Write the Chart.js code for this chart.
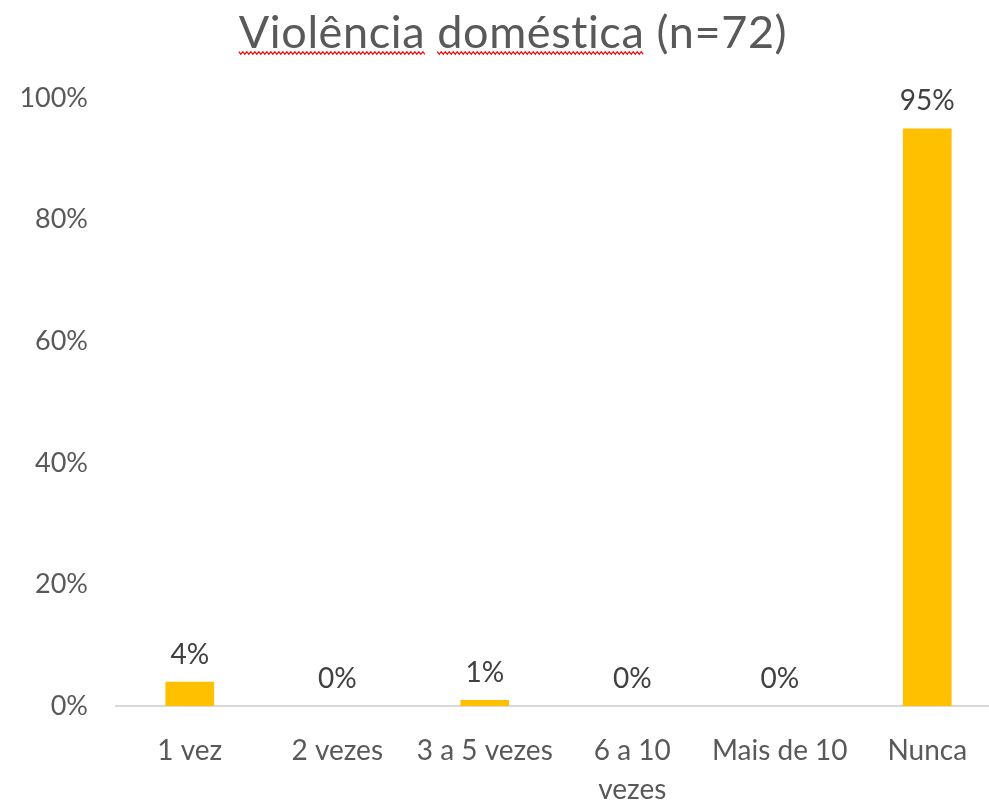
<!DOCTYPE html>
<html>
<head>
<meta charset="utf-8">
<script src="https://cdn.jsdelivr.net/npm/chart.js@4"></script>
<style>
    body { margin: 0; overflow: hidden; background: #fff; }
</style>
</head>
<body>
<canvas id="chart" width="1001" height="801"></canvas>
<script>
// chart data
const categories = ['1 vez', '2 vezes', '3 a 5 vezes', ['6 a 10', 'vezes'], 'Mais de 10', 'Nunca'];
const shares = [0.04, 0, 0.01, 0, 0, 0.95];
const yTicks = [0, 0.2, 0.4, 0.6, 0.8, 1];
const chartTitle = 'Violência doméstica (n=72)';
const misspelled = 'Violência doméstica';

const fontFamily = 'Lato, "Open Sans", sans-serif';

// title with the red wavy spell-check line under it
const titlePlugin = {
    id: 'titleDraw',
    afterDraw(chart) {
        const ctx = chart.ctx;
        ctx.save();
        ctx.font = '45px ' + fontFamily;
        ctx.letterSpacing = '0.6px'; // also stops the "ti" ligature
        ctx.fillStyle = '#595959';
        ctx.textBaseline = 'alphabetic';
        ctx.textAlign = 'left';
        const w = ctx.measureText(chartTitle).width;
        const x0 = 513 - w / 2;
        ctx.fillText(chartTitle, x0, 48);
        // wave under each misspelled word
        ctx.strokeStyle = '#ff0000';
        ctx.lineWidth = 1.2;
        let start = x0;
        misspelled.split(' ').forEach(function (word) {
            const ww = ctx.measureText(word).width;
            ctx.beginPath();
            let k = 0;
            for (let x = start; x <= start + ww; x += 2, k++) {
                const y = 53 + (k % 2 === 0 ? -1.3 : 1.3);
                if (k === 0) ctx.moveTo(x, y); else ctx.lineTo(x, y);
            }
            ctx.stroke();
            start += ww + ctx.measureText(' ').width;
        });
        ctx.restore();
    }
};

// value labels above the bars
const valueLabels = {
    id: 'valueLabels',
    afterDatasetsDraw(chart) {
        const ctx = chart.ctx;
        const meta = chart.getDatasetMeta(0);
        ctx.save();
        ctx.font = '28px ' + fontFamily;
        ctx.fillStyle = '#404040';
        ctx.textAlign = 'center';
        ctx.textBaseline = 'middle';
        meta.data.forEach(function (bar, i) {
            ctx.fillText(Math.round(shares[i] * 100) + '%', bar.x, bar.y - 27);
        });
        ctx.restore();
    }
};

const ctx = document.getElementById('chart').getContext('2d');
new Chart(ctx, {
    type: 'bar',
    data: {
        labels: categories,
        datasets: [{
            data: shares,
            backgroundColor: '#FFC000',
            categoryPercentage: 1,
            barPercentage: 0.33
        }]
    },
    options: {
        responsive: false,
        animation: false,
        layout: { padding: { top: 98, right: 0, left: 0, bottom: 0 } },
        plugins: {
            legend: { display: false },
            title: { display: false },
            tooltip: { enabled: false }
        },
        scales: {
            x: {
                grid: { display: false, drawTicks: false },
                border: { display: true, color: '#D9D9D9', width: 2 },
                ticks: {
                    color: '#595959',
                    font: { family: fontFamily, size: 28, lineHeight: 1.4 },
                    padding: 25,
                    maxRotation: 0,
                    autoSkip: false
                },
                afterFit(scale) { scale.height = 95; }
            },
            y: {
                min: 0,
                max: 1,
                grid: { display: false, drawTicks: false },
                border: { display: false },
                afterBuildTicks(scale) { scale.ticks = yTicks.map(v => ({ value: v })); },
                ticks: {
                    color: '#595959',
                    font: { family: fontFamily, size: 27 },
                    padding: 28,
                    callback: v => Math.round(v * 100) + '%'
                },
                afterFit(scale) { scale.width = 116; }
            }
        }
    },
    plugins: [titlePlugin, valueLabels]
});
</script>
</body>
</html>
